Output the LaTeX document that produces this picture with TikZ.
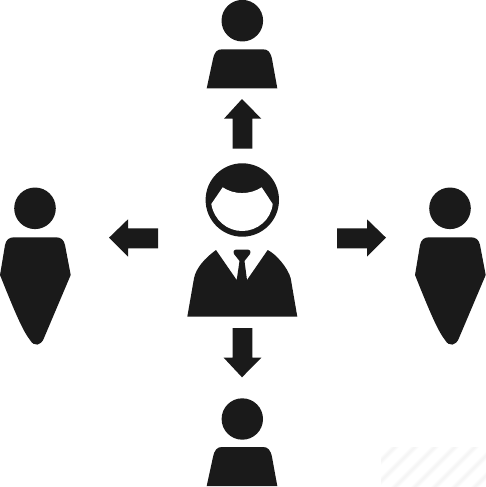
\documentclass[tikz,border=0pt]{standalone}
\definecolor{ink}{HTML}{1A1A1A}
\definecolor{faint}{HTML}{FAFAFA}
\definecolor{fainter}{HTML}{F5F5F5}
\tikzset{
  solid ink/.style={fill=ink,draw=none},
  stripe halo/.style={draw=faint,line width=5pt},
  stripe core/.style={draw=fainter,line width=2.2pt}
}
\begin{document}
\begin{tikzpicture}[x=1pt,y=-1pt]
\useasboundingbox (0,0) rectangle (486,487);
\fill[white] (0,0) rectangle (486,487);
% watermark stripes
\begin{scope}
\clip (381,447) rectangle (486,487);
\foreach \s in {842,862,...,962}{
  \draw[stripe halo] (\s-507,507) -- (\s-427,427);
  \draw[stripe core] (\s-507,507) -- (\s-427,427);
}
\end{scope}
% top person
\fill[solid ink] (242.3,20.7) circle[radius=20.8];
\fill[solid ink] (206.7,88.3) -- (213,59) .. controls (214.5,52) and (217,49.3) .. (222,49.3) -- (263,49.3) .. controls (268,49.3) and (270.5,52) .. (272,59) -- (277.3,88.3) -- cycle;
% bottom person
\fill[solid ink] (242.3,419) circle[radius=20.7];
\fill[solid ink] (206.7,486) -- (213,457) .. controls (214.5,450) and (217,447) .. (222,447) -- (263,447) .. controls (268,447) and (270.5,450) .. (272,457) -- (277.3,486) -- cycle;
% left person
\fill[solid ink] (35,208.3) circle[radius=20.8];
\fill[solid ink] (0,275) -- (5,245) .. controls (6,240) and (9,237.3) .. (14,237.3) -- (56,237.3) .. controls (61,237.3) and (64,240) .. (65,245) -- (70.7,275) -- (44,338) .. controls (41,346) and (34,347) .. (30,340) .. controls (23,331) and (16,315) .. (0,275) -- cycle;
% right person
\begin{scope}[xshift=415pt]
\fill[solid ink] (35,208.3) circle[radius=20.8];
\fill[solid ink] (0,275) -- (5,245) .. controls (6,240) and (9,237.3) .. (14,237.3) -- (56,237.3) .. controls (61,237.3) and (64,240) .. (65,245) -- (70.7,275) -- (44,338) .. controls (41,346) and (34,347) .. (30,340) .. controls (23,331) and (16,315) .. (0,275) -- cycle;
\end{scope}
% arrows
\fill[solid ink] (109,237.7) -- (128,219.3) -- (128,228.3) -- (158,228.3) -- (158,248.3) -- (128,248.3) -- (128,256.7) -- cycle;
\fill[solid ink] (386,237.7) -- (367,219.3) -- (367,228.3) -- (337,228.3) -- (337,248.3) -- (367,248.3) -- (367,256.7) -- cycle;
\fill[solid ink] (242,99) -- (261.3,118.7) -- (252.3,118.7) -- (252.3,148.7) -- (232.7,148.7) -- (232.7,118.7) -- (224,118.7) -- cycle;
\fill[solid ink] (242,377.3) -- (261.3,357.7) -- (252.3,357.7) -- (252.3,328) -- (232.7,328) -- (232.7,357.7) -- (223.7,357.7) -- cycle;
% centre head
\fill[solid ink] (242.3,200) circle[radius=36.7];
\fill[white] (222.7,187.3) .. controls (234,195) and (250,195) .. (261.7,187.3) -- (272.7,204) .. controls (271,220) and (257,231) .. (242.3,231) .. controls (227,231) and (214,220) .. (211.3,204) -- cycle;
% centre body with tie
\fill[solid ink] (187.3,316.7) -- (194,278.3) .. controls (196,268) and (205,258) .. (216,250) -- (236.7,280) -- (239.5,261) -- (234,254) .. controls (233,251) and (234,249.5) .. (236,249.5) -- (248,249.5) .. controls (250,249.5) and (251,251) .. (250,254) -- (244.5,261) -- (247,280) -- (267.7,250) .. controls (276,254) and (288,268) .. (290.7,278.3) -- (297.3,316.7) -- cycle;
\end{tikzpicture}
\end{document}
